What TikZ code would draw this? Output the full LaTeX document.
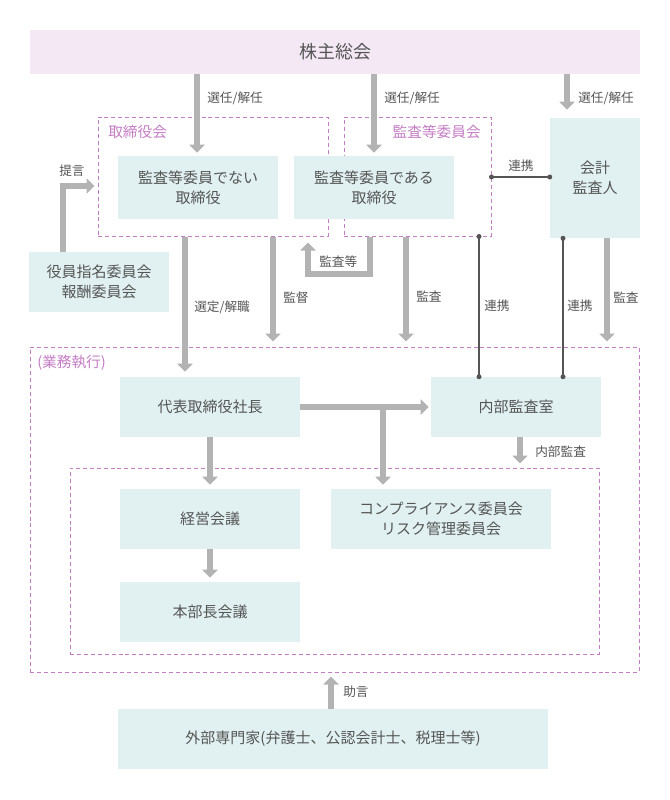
\documentclass[tikz,border=0pt]{standalone}
\usepackage{fontspec}
\setmainfont{Noto Sans CJK JP}
\usetikzlibrary{arrows.meta}
\definecolor{boxc}{HTML}{E1F1F1}
\definecolor{topc}{HTML}{F4E8F4}
\definecolor{dashc}{HTML}{C47DC4}
\definecolor{txt}{HTML}{555555}
\definecolor{arrc}{HTML}{B3B3B3}
\definecolor{linec}{HTML}{555555}
\begin{document}
\begin{tikzpicture}[x=0.75pt,y=-0.75pt,
  box/.style 2 args={fill=boxc, draw=none, minimum width=#1*0.75pt, minimum height=#2*0.75pt, inner sep=0pt, align=center, text=txt, font=\fontsize{11.25}{15}\selectfont},
  grp/.style 2 args={draw=dashc, dash pattern=on 3pt off 2.2pt, line width=0.75pt, minimum width=#1*0.75pt, minimum height=#2*0.75pt, inner sep=0pt},
  glbl/.style={text=dashc, font=\fontsize{11}{13}\selectfont, inner sep=0pt},
  arr/.style={draw=arrc, line width=4.5pt, line join=miter, -{Triangle[width=11.25pt,length=6pt]}},
  lbl/.style={text=txt, font=\fontsize{9.5}{11}\selectfont, inner sep=0pt, anchor=west},
  lnk/.style={draw=linec, line width=0.9pt},
  dot/.style={circle, fill=linec, inner sep=0pt, minimum size=3.75pt}
]
\useasboundingbox (0,0) rectangle (670,800);
% helper coordinates
\coordinate (c63) at (63,186);
\coordinate (c177) at (0,177);
\coordinate (c185) at (185,0);
\coordinate (c197) at (197,0);
\coordinate (c273) at (273,0);
\coordinate (c308) at (308,274);
\coordinate (c370) at (370,0);
\coordinate (c374) at (374,0);
\coordinate (c383) at (383,406);
\coordinate (c406) at (406,0);
\coordinate (c479) at (479,0);
\coordinate (c520) at (520,0);
\coordinate (c563) at (563,0);
\coordinate (c567) at (567,0);
\coordinate (c607) at (607,0);
\coordinate (c331) at (331,0);

% groups
\node[grp={230}{119}] (bd) at (213,176.5) {};
\node[grp={147}{119}] (ac) at (417.5,176.5) {};
\node[grp={609}{325}] (ex) at (334.5,509.5) {};
\node[grp={529}{186}] (in) at (334.5,561) {};
\node[glbl, anchor=west] (bdl) at (108,132) {取締役会};
\node[glbl, anchor=east] (acl) at (481,132) {監査等委員会};
\node[glbl, anchor=west] (exl) at (37,363) {(業務執行)};

% boxes
\node[box={610}{44}, fill=topc, font=\fontsize{13.5}{16}\selectfont] (top) at (335,52) {株主総会};
\node[box={160}{63}] (nd) at (198,187.5) {監査等委員でない\\取締役};
\node[box={160}{63}] (ad) at (374,187.5) {監査等委員である\\取締役};
\node[box={90}{120}] (ca) at (595,178) {会計\\監査人};
\node[box={140}{60}] (nom) at (99,282) {役員指名委員会\\報酬委員会};
\node[box={180}{60}] (pres) at (210,407) {代表取締役社長};
\node[box={170}{60}] (ia) at (516,407) {内部監査室};
\node[box={180}{60}] (mg) at (210,519) {経営会議};
\node[box={220}{60}] (cp) at (441,519) {コンプライアンス委員会\\リスク管理委員会};
\node[box={180}{60}] (hq) at (210,612) {本部長会議};
\node[box={430}{60}] (ext) at (333,739) {外部専門家(弁護士、公認会計士、税理士等)};

% arrows from shareholders
\draw[arr, shorten >=2.25pt] (top.south -| c197) -- (nd.north -| c197);
\draw[arr, shorten >=2.25pt] (top.south -| c374) -- (ad.north -| c374);
\draw[arr, shorten >=6pt] (top.south -| c567) -- (ca.north -| c567);
\node[lbl] (l1) at (207,98) {選任/解任};
\node[lbl] (l2) at (384,98) {選任/解任};
\node[lbl] (l3) at (578,98) {選任/解任};

% proposal
\draw[arr, shorten >=2.25pt] (nom.north -| c63) |- (bd.west |- c63);
\node[lbl] (l4) at (59,171) {提言};

% link between committee and auditor
\draw[lnk] (ac.east |- c177) -- (ca.west |- c177);
\node[dot] at (ac.east |- c177) {};
\node[dot] at (ca.west |- c177) {};
\node[lbl] (l5) at (508,166) {連携};

% board downwards
\draw[arr, shorten >=3.75pt] (bd.south -| c185) -- (pres.north -| c185);
\node[lbl] (l6) at (194,307) {選定/解職};
\draw[arr, shorten >=3.75pt] (bd.south -| c273) -- (ex.north -| c273);
\node[lbl] (l7) at (283,298) {監督};
\draw[arr, shorten >=4.5pt] (ac.south -| c370) |- (c308) -- (bd.south -| c308);
\node[lbl] (l8) at (319,262) {監査等};
\draw[arr, shorten >=3.75pt] (ac.south -| c406) -- (ex.north -| c406);
\node[lbl] (l9) at (416,297) {監査};
\draw[arr, shorten >=3.75pt] (ca.south -| c607) -- (ex.north -| c607);
\node[lbl] (l10) at (613,298) {監査};

% vertical links
\draw[lnk] (ac.south -| c479) -- (ia.north -| c479);
\node[dot] at (ac.south -| c479) {};
\node[dot] at (ia.north -| c479) {};
\node[lbl] (l11) at (484,306) {連携};
\draw[lnk] (ca.south -| c563) -- (ia.north -| c563);
\node[dot] at (ca.south -| c563) {};
\node[dot] at (ia.north -| c563) {};
\node[lbl] (l12) at (567,306) {連携};

% execution
\draw[arr, shorten >=1.5pt] (pres.east) -- (ia.west);
\draw[arr, shorten >=3pt] (c383) -- (cp.north -| c383);
\draw[arr, shorten >=3pt] (pres.south) -- (mg.north);
\draw[arr, shorten >=3pt] (mg.south) -- (hq.north);
\draw[arr, shorten >=3pt] (ia.south -| c520) -- (in.north -| c520);
\node[lbl] (l13) at (535,452) {内部監査};

% advice
\draw[arr, shorten >=3pt] (ext.north -| c331) -- (ex.south -| c331);
\node[lbl] (l14) at (343,692) {助言};
\end{tikzpicture}
\end{document}
